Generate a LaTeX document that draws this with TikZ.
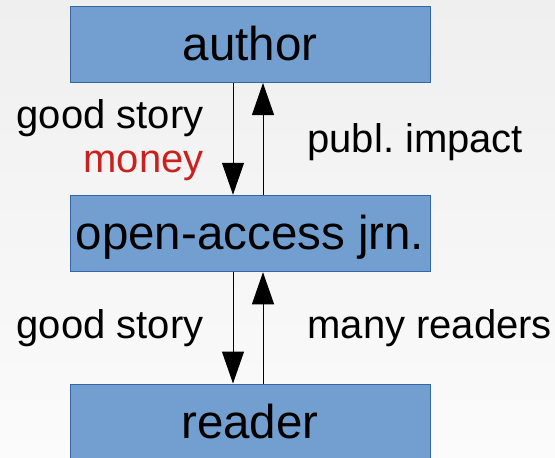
\documentclass[tikz,border=0pt]{standalone}
\usepackage{fontspec}
\setmainfont{Liberation Sans}
\usetikzlibrary{arrows.meta}
\definecolor{boxfill}{HTML}{729FCF}
\definecolor{boxline}{HTML}{3465A4}
\definecolor{moneyred}{HTML}{C9211E}
\definecolor{bgtop}{HTML}{EFEFEF}
\definecolor{bgbot}{HTML}{FBFBFB}
\tikzset{
  box/.style={draw=boxline, fill=boxfill, line width=1pt, minimum width=360pt, minimum height=76.5pt,
    inner sep=0pt, text height=32pt, text depth=0pt, font=\fontsize{47.5}{52}\selectfont},
  lbl/.style={inner sep=0pt, font=\fontsize{40}{46}\selectfont}
}
\begin{document}
\begin{tikzpicture}[x=1pt, y=-1pt, line width=1pt, >={Triangle[length=32pt, width=22pt]}]
\useasboundingbox (0,0) rectangle (555,458);
\clip (0,0) rectangle (555,458);
\shade[top color=bgtop, bottom color=bgbot] (0,0) rectangle (555,458);
\node[box] (P_0_0) at (250,44.25) {author};
\node[box] (P_0_1) at (250,233.5) {open-access jrn.};
\node[box] (P_0_2) at (250,422.25) {reader};
\draw[->] ([xshift=-17pt]P_0_0.south) -- ([xshift=-17pt]P_0_1.north)
  node[midway, lbl, anchor=base east, xshift=-29pt, yshift=10.75pt] {good story}
  node[midway, lbl, anchor=base east, xshift=-29pt, yshift=-33.25pt, text=moneyred] {money};
\draw[->] ([xshift=13pt]P_0_1.north) -- ([xshift=13pt]P_0_0.south)
  node[midway, lbl, anchor=base west, xshift=44pt, yshift=-13.25pt] {publ.\ impact};
\draw[->] ([xshift=-17pt]P_0_1.south) -- ([xshift=-17pt]P_0_2.north)
  node[midway, lbl, anchor=base east, xshift=-29pt, yshift=-11pt] {good story};
\draw[->] ([xshift=13pt]P_0_2.north) -- ([xshift=13pt]P_0_1.south)
  node[midway, lbl, anchor=base west, xshift=44pt, yshift=-11pt] {many readers};
\end{tikzpicture}
\end{document}
